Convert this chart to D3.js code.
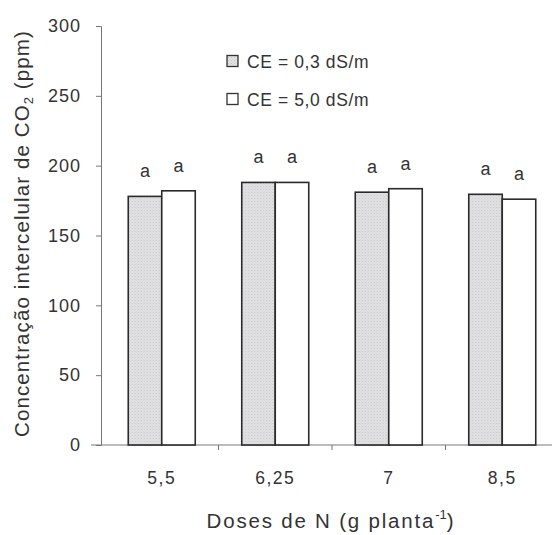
<!DOCTYPE html>
<html>
<head>
<meta charset="utf-8">
<script src="https://cdn.jsdelivr.net/npm/d3@7"></script>
<style>
  body { margin: 0; background: #fff; }
  text { font-family: "Liberation Sans", Arial, sans-serif; fill: #333; }
</style>
</head>
<body>
<svg id="chart" width="552" height="535"></svg>
<script>
// Doses de N and intercellular CO2 concentration for the two salinity levels
const doses = ["5,5", "6,25", "7", "8,5"];
const seriesNames = ["CE = 0,3 dS/m", "CE = 5,0 dS/m"];
const ce03 = [178, 188, 181, 179.5];
const ce50 = [182, 188, 183.5, 176];
const letters03 = ["a", "a", "a", "a"];
const letters50 = ["a", "a", "a", "a"];
const yTicks = [0, 50, 100, 150, 200, 250, 300];

const svg = d3.select("#chart");

// pattern for the stippled grey bars
const defs = svg.append("defs");
const pat = defs.append("pattern").attr("id", "stipple")
  .attr("width", 3).attr("height", 3).attr("patternUnits", "userSpaceOnUse");
pat.append("rect").attr("width", 3).attr("height", 3).attr("fill", "#e2e2e4");
pat.append("rect").attr("x", 0).attr("y", 0).attr("width", 1).attr("height", 1).attr("fill", "#c4c4c8");
pat.append("rect").attr("x", 1.5).attr("y", 1.5).attr("width", 1).attr("height", 1).attr("fill", "#cfcfd3");

const x0 = 105, x1 = 559, yTop = 26, yBot = 445;

const x = d3.scaleBand().domain(doses).range([x0, x1]).paddingInner(0).paddingOuter(0);
const y = d3.scaleLinear().domain([0, 300]).range([yBot, yTop]);
const barW = 33.5;

const data = doses.map((d, i) => ({
  dose: d,
  vals: [
    { s: 0, v: ce03[i], l: letters03[i] },
    { s: 1, v: ce50[i], l: letters50[i] }
  ]
}));

// Y axis
const yAxis = svg.append("g").attr("transform", `translate(${x0 - 4},0)`)
  .call(d3.axisLeft(y).tickValues(yTicks).tickSize(5).tickPadding(15));
yAxis.select(".domain").attr("stroke", "#777").attr("stroke-width", 1);
yAxis.selectAll(".tick line").attr("stroke", "#777");
yAxis.selectAll(".tick text").attr("font-size", 18).attr("letter-spacing", 1).style("fill", "#333");

// X axis
const xAxisG = svg.append("g").attr("transform", `translate(0,${yBot})`);
xAxisG.append("line").attr("x1", x0 - 14).attr("x2", x1).attr("y1", 0).attr("y2", 0)
  .attr("stroke", "#777");
const bounds = doses.map(d => x(d)).concat([x1]);
xAxisG.selectAll("line.tk").data(bounds.slice(1)).join("line").attr("class", "tk")
  .attr("x1", d => d).attr("x2", d => d).attr("y1", 0).attr("y2", 5).attr("stroke", "#777");
xAxisG.selectAll("text.lab").data(doses).join("text").attr("class", "lab")
  .attr("x", d => x(d) + x.bandwidth() / 2).attr("y", 39)
  .attr("text-anchor", "middle").attr("font-size", 17.5).attr("letter-spacing", 1.5).text(d => d);

// Bars
const groups = svg.append("g").selectAll("g").data(data).join("g")
  .attr("transform", d => `translate(${x(d.dose) + x.bandwidth() / 2},0)`);
groups.selectAll("rect").data(d => d.vals).join("rect")
  .attr("x", d => d.s === 0 ? -barW : 0)
  .attr("y", d => y(d.v))
  .attr("width", barW)
  .attr("height", d => yBot - y(d.v))
  .attr("fill", d => d.s === 0 ? "url(#stipple)" : "#fff")
  .attr("stroke", "#2a2a2a").attr("stroke-width", 1.6);
groups.selectAll("text").data(d => d.vals).join("text")
  .attr("x", d => d.s === 0 ? -barW / 2 : barW / 2)
  .attr("y", d => y(d.v) - 19)
  .attr("text-anchor", "middle").attr("font-size", 18).text(d => d.l);

// Legend
const legend = svg.append("g");
seriesNames.forEach((name, i) => {
  const ly = 61 + i * 38;
  legend.append("rect").attr("x", 227).attr("y", ly - 5.5).attr("width", 11).attr("height", 11)
    .attr("fill", i === 0 ? "url(#stipple)" : "#fff").attr("stroke", "#333").attr("stroke-width", 1.3);
  legend.append("text").attr("x", 247).attr("y", ly + 6.5).attr("font-size", 17.5)
    .attr("letter-spacing", 0.6).text(name);
});

// Axis titles
const yt = svg.append("text").attr("transform", `translate(29,${(yTop + yBot) / 2 - 2}) rotate(-90)`)
  .attr("text-anchor", "middle").attr("font-size", 20.5).attr("letter-spacing", 1.1);
yt.append("tspan").text("Concentração intercelular de CO");
yt.append("tspan").attr("font-size", 13).attr("dy", 4).text("2");
yt.append("tspan").attr("dy", -4).text(" (ppm)");

const xt = svg.append("text").attr("x", 331).attr("y", 528)
  .attr("text-anchor", "middle").attr("font-size", 20.5).attr("letter-spacing", 1.8);
xt.append("tspan").text("Doses de N (g planta");
xt.append("tspan").attr("font-size", 13).attr("dy", -9).attr("letter-spacing", 0).text("-1");
xt.append("tspan").attr("dy", 9).text(")");
</script>
</body>
</html>
